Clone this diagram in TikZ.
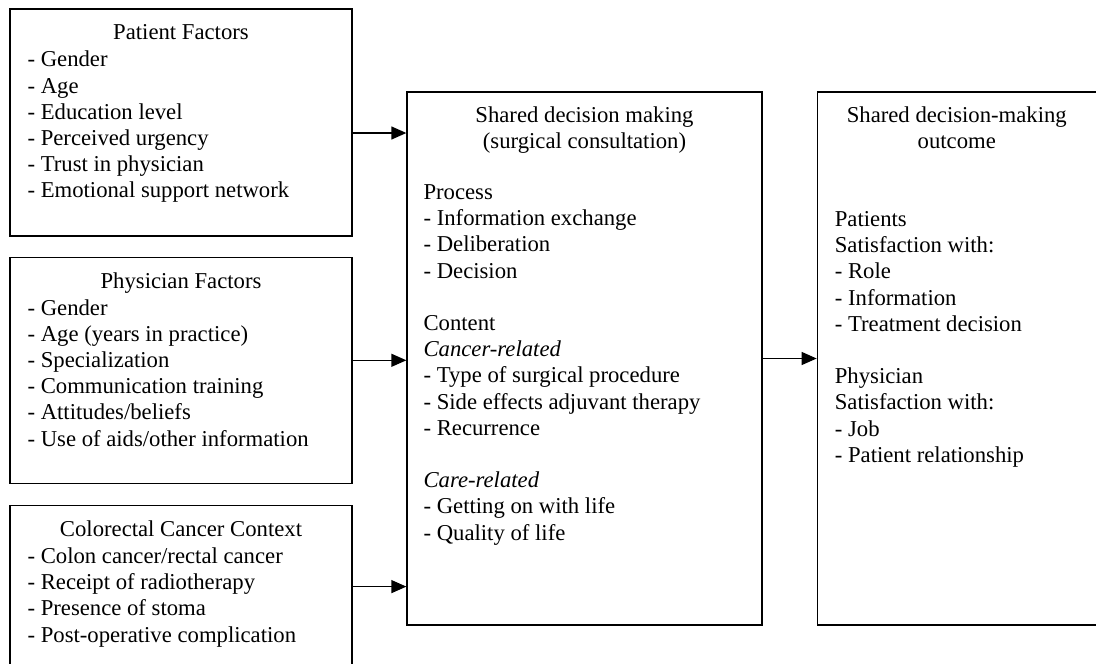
\documentclass[tikz,border=0pt]{standalone}
\usepackage{fontspec}
\setmainfont{Liberation Serif}
\usetikzlibrary{positioning,arrows.meta}

\tikzset{
  box/.style={draw, line width=1.3pt, inner sep=0pt},
  head/.style={anchor=north, inner sep=0pt, align=center},
  items/.style={anchor=north west, inner sep=0pt, align=left},
  arr/.style={line width=1.3pt, -{Triangle[length=15pt,width=13pt]}}
}

\begin{document}
\begin{tikzpicture}[x=1pt,y=-1pt,font=\fontsize{22.7}{26.2}\selectfont]
\useasboundingbox (0,0) rectangle (1096,664);
% boxes
\node [box, minimum width=342pt, minimum height=227pt] (pat) at (181,122.5) {};
\node [box, minimum width=342pt, minimum height=226pt, below=20pt of pat] (phy) {};
\node [box, minimum width=342pt, minimum height=162pt, below=21pt of phy] (crc) {};
\node [box, minimum width=355pt, minimum height=533pt] (sdm) at (584.5,358.5) {};
\node [box, minimum width=279pt, minimum height=533pt, right=54pt of sdm] (out) {};
% left column texts
\node [head] (patT) at ([yshift=-16pt]pat.north) {Patient Factors};
\node [items] (patL) at ([shift={(18pt,-42.5pt)}]pat.north west) {- Gender\\- Age\\- Education level\\- Perceived urgency\\- Trust in physician\\- Emotional support network};
\node [head] (phyT) at ([yshift=-16pt]phy.north) {Physician Factors};
\node [items] (phyL) at ([shift={(18pt,-42.5pt)}]phy.north west) {- Gender\\- Age (years in practice)\\- Specialization\\- Communication training\\- Attitudes/beliefs\\- Use of aids/other information};
\node [head] (crcT) at ([yshift=-16pt]crc.north) {Colorectal Cancer Context};
\node [items] (crcL) at ([shift={(18pt,-42.5pt)}]crc.north west) {- Colon cancer/rectal cancer\\- Receipt of radiotherapy\\- Presence of stoma\\- Post-operative complication};
% middle
\node [head] (sdmT) at ([yshift=-15pt]sdm.north) {Shared decision making\\(surgical consultation)};
\node [items] (sdmL) at ([shift={(17pt,-93pt)}]sdm.north west) {Process\\- Information exchange\\- Deliberation\\- Decision\\[26.2pt]Content\\\textit{Cancer-related}\\- Type of surgical procedure\\- Side effects adjuvant therapy\\- Recurrence\\[26.2pt]\textit{Care-related}\\- Getting on with life\\- Quality of life};
% right
\node [head] (outT) at ([yshift=-15pt]out.north) {Shared decision-making\\outcome};
\node [items] (outL) at ([shift={(18pt,-120pt)}]out.north west) {Patients\\Satisfaction with:\\- Role\\- Information\\- Treatment decision\\[26.2pt]Physician\\Satisfaction with:\\- Job\\- Patient relationship};
% arrows
\coordinate (p1) at ([yshift=-10.5pt]pat.east);
\coordinate (p2) at ([yshift=10pt]phy.east);
\draw [arr] (p1) -- (p1 -| sdm.west);
\draw [arr] (p2) -- (p2 -| sdm.west);
\draw [arr] (crc.east) -- (crc.east -| sdm.west);
\draw [arr] (sdm.east) -- (out.west);
\end{tikzpicture}
\end{document}
